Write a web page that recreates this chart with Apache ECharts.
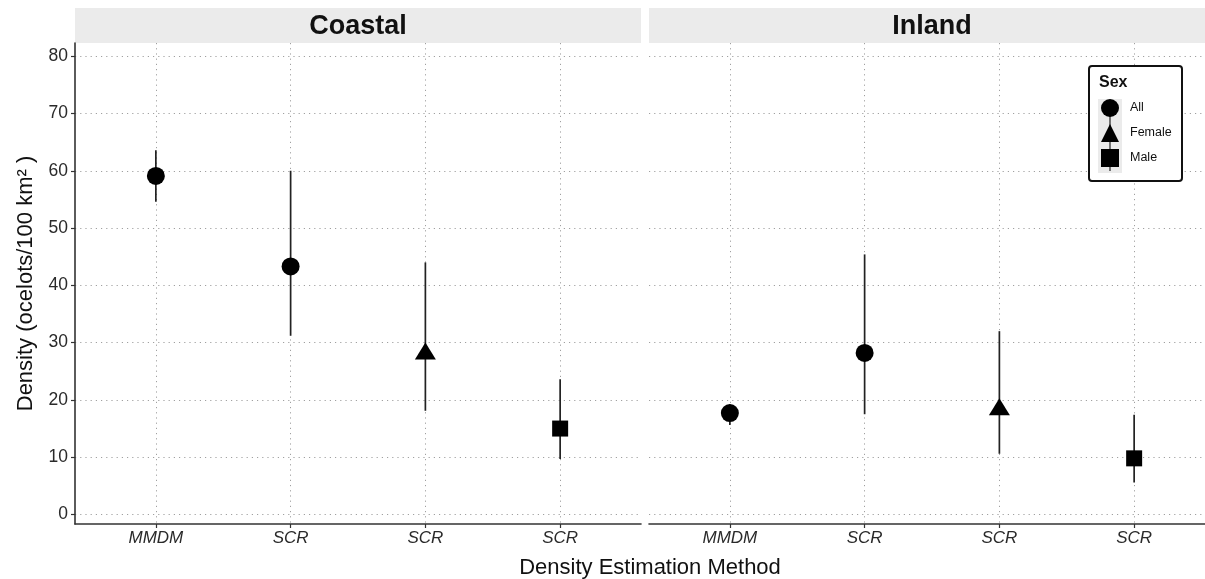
<!DOCTYPE html>
<html>
<head>
<meta charset="utf-8">
<script src="https://cdn.jsdelivr.net/npm/echarts@6/dist/echarts.min.js"></script>
<style>
  html, body { margin: 0; padding: 0; background: #fff; }
  #chart { width: 1205px; height: 579px; }
</style>
</head>
<body>
<div id="chart"></div>
<script>
// data
const panels = ['Coastal', 'Inland']
const methods = ['MMDM', 'SCR', 'SCR', 'SCR']
const sexes = ['All', 'All', 'Female', 'Male']
const coastalEst = [59.1, 43.3, 28.0, 15.0]
const coastalLow = [54.6, 31.2, 18.1, 9.7]
const coastalHigh = [63.6, 60.0, 44.0, 23.6]
const inlandEst = [17.7, 28.2, 18.3, 9.8]
const inlandLow = [15.6, 17.5, 10.6, 5.6]
const inlandHigh = [19.2, 45.4, 32.0, 17.4]
const yTicks = [0, 10, 20, 30, 40, 50, 60, 70, 80]
const xTicks = [1, 2, 3, 4]

const est = [coastalEst, inlandEst]
const low = [coastalLow, inlandLow]
const high = [coastalHigh, inlandHigh]

// layout
const gridTop = 43
const gridHeight = 481
const gridWidth = 566
const gridLefts = [75, 649]
const stripTop = 8

const symbolOf = { All: 'circle', Female: 'triangle', Male: 'rect' }
const sizeOf = { All: 18, Female: [21, 17], Male: 16 }
const offsetOf = { All: [0, 0], Female: [0, -3], Male: [0, 0] }

let myChart = echarts.init(document.getElementById('chart'))

const dotted = { color: '#a0a0a0', width: 1, type: [1.2, 4] }
const font = 'Liberation Sans, Arial, Helvetica, sans-serif'

let grids = []
let xAxes = []
let yAxes = []
let series = []
let graphics = []

panels.forEach(function (name, p) {
  grids.push({
    left: gridLefts[p],
    top: gridTop,
    width: gridWidth,
    height: gridHeight,
    containLabel: false,
    outerBoundsMode: 'none'
  })
  xAxes.push({
    type: 'value',
    gridIndex: p,
    min: 0.4,
    max: 4.6,
    axisLine: { show: true, onZero: false, lineStyle: { color: '#333', width: 1.6 } },
    axisTick: { show: true, customValues: xTicks, length: 4, lineStyle: { color: '#333', width: 1.2 } },
    axisLabel: {
      customValues: xTicks,
      formatter: function (v) { return methods[Math.round(v) - 1] },
      fontStyle: 'italic',
      fontSize: 17,
      fontFamily: font,
      color: '#2a2a2a',
      margin: 6
    },
    splitLine: { show: true, lineStyle: dotted }
  })
  yAxes.push({
    type: 'value',
    gridIndex: p,
    min: -1.66,
    max: 82.3,
    name: p === 0 ? 'Density (ocelots/100 km\u00B2 )' : '',
    nameLocation: 'middle',
    nameGap: 38,
    nameTextStyle: { fontSize: 22, fontFamily: font, color: '#111' },
    axisLine: { show: p === 0, lineStyle: { color: '#333', width: 1.6 } },
    axisTick: { show: p === 0, customValues: yTicks, length: 4, lineStyle: { color: '#333', width: 1.2 } },
    axisLabel: {
      show: p === 0,
      customValues: yTicks,
      fontSize: 17.5,
      fontFamily: font,
      color: '#2a2a2a',
      margin: 7
    },
    splitLine: { show: true, lineStyle: dotted }
  })

  // error bars
  series.push({
    type: 'custom',
    xAxisIndex: p,
    yAxisIndex: p,
    z: 2,
    silent: true,
    data: xTicks.map(function (x, i) { return [x, low[p][i], high[p][i]] }),
    renderItem: function (params, api) {
      const a = api.coord([api.value(0), api.value(1)])
      const b = api.coord([api.value(0), api.value(2)])
      return {
        type: 'line',
        shape: { x1: a[0], y1: a[1], x2: b[0], y2: b[1] },
        style: { stroke: '#222', lineWidth: 1.7 }
      }
    }
  })

  // points, one series per sex
  ;['All', 'Female', 'Male'].forEach(function (s) {
    series.push({
      name: s,
      type: 'scatter',
      xAxisIndex: p,
      yAxisIndex: p,
      z: 3,
      symbol: symbolOf[s],
      symbolSize: sizeOf[s],
      symbolOffset: offsetOf[s],
      itemStyle: { color: '#000', opacity: 1 },
      data: xTicks.filter(function (x, i) { return sexes[i] === s })
        .map(function (x) { return [x, est[p][x - 1]] })
    })
  })

  // facet strip
  graphics.push({
    type: 'rect',
    shape: { x: gridLefts[p], y: stripTop, width: gridWidth, height: gridTop - stripTop },
    style: { fill: '#ebebeb' },
    z: 0
  })
  graphics.push({
    type: 'text',
    x: gridLefts[p] + gridWidth / 2,
    y: (stripTop + gridTop) / 2 + 1,
    style: {
      text: name,
      fill: '#111',
      font: 'bold 27px ' + font,
      textAlign: 'center',
      textVerticalAlign: 'middle'
    },
    z: 1
  })
})

// legend box, key background and title (legend itself drawn on top)
const legendLeft = 1089
const legendTop = 66
graphics.push({
  type: 'rect',
  shape: { x: legendLeft, y: legendTop, width: 93, height: 115, r: 3 },
  style: { fill: '#fff', stroke: '#111', lineWidth: 2 },
  z: 40
})
graphics.push({
  type: 'rect',
  shape: { x: legendLeft + 9, y: legendTop + 33, width: 24, height: 74 },
  style: { fill: '#ebebeb' },
  z: 41
})
// vertical key line through the legend symbols
graphics.push({
  type: 'line',
  shape: { x1: legendLeft + 21, y1: legendTop + 35, x2: legendLeft + 21, y2: legendTop + 105 },
  style: { stroke: '#222', lineWidth: 1.2 },
  z: 42
})
graphics.push({
  type: 'text',
  x: legendLeft + 10,
  y: legendTop + 17,
  style: { text: 'Sex', font: 'bold 16px ' + font, fill: '#111', textVerticalAlign: 'middle' },
  z: 42
})

myChart.setOption({
  animation: false,
  backgroundColor: '#fff',
  title: {
    text: 'Density Estimation Method',
    left: 645,
    top: 552,
    textAlign: 'center',
    textStyle: { fontSize: 22, fontWeight: 'normal', fontFamily: font, color: '#111' }
  },
  legend: {
    orient: 'vertical',
    left: legendLeft,
    top: legendTop,
    padding: [33, 10, 13, 12],
    itemWidth: 18,
    itemHeight: 18,
    itemGap: 7,
    z: 50,
    data: [
      { name: 'All', icon: 'circle' },
      { name: 'Female', icon: 'triangle' },
      { name: 'Male', icon: 'rect' }
    ],
    textStyle: { fontSize: 12.5, fontFamily: font, color: '#111', padding: [0, 0, 0, 6] }
  },
  graphic: graphics,
  grid: grids,
  xAxis: xAxes,
  yAxis: yAxes,
  series: series
})
</script>
</body>
</html>
